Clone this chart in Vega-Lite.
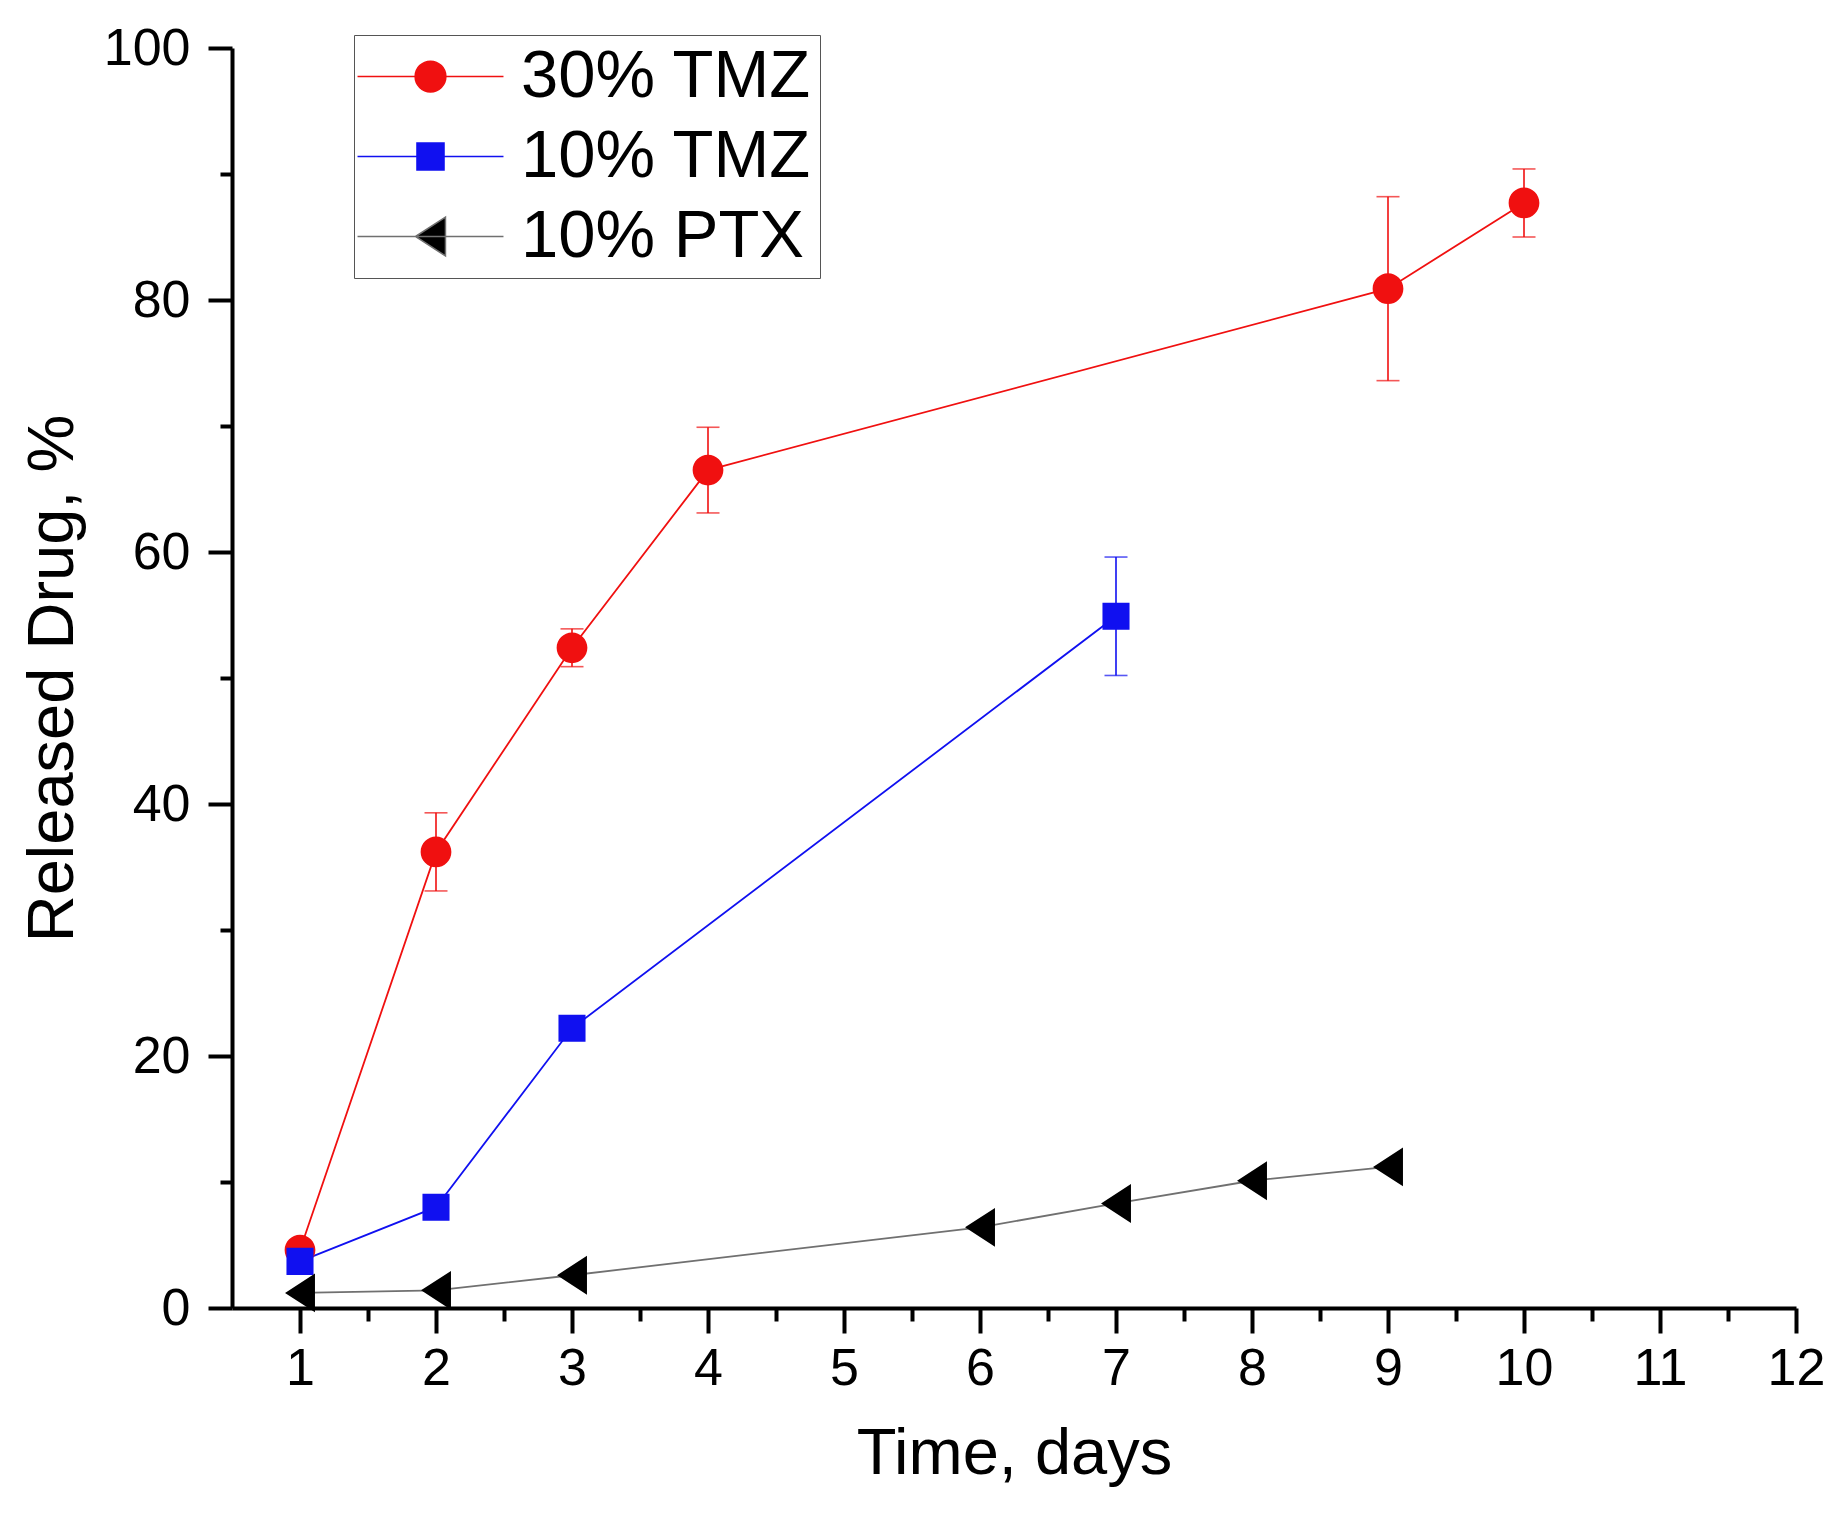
{
  "$schema": "https://vega.github.io/schema/vega-lite/v6.json",
  "description": "Cumulative drug release over time",
  "width": 1564,
  "height": 1260,
  "autosize": "none",
  "padding": {"left": 232, "top": 48, "right": 40, "bottom": 221},
  "background": "white",
  "config": {
    "view": {"stroke": null},
    "font": "Liberation Sans",
    "axis": {
      "grid": false,
      "domainColor": "black",
      "domainWidth": 4,
      "tickColor": "black",
      "tickWidth": 4,
      "labelFont": "Liberation Sans",
      "labelFontSize": 52,
      "labelColor": "black",
      "titleFont": "Liberation Sans",
      "titleFontSize": 65,
      "titleFontWeight": "normal",
      "titleColor": "black"
    }
  },
  "data": {
    "values": [
      {"series": "30% TMZ", "day": 1, "value": 4.6, "err": null},
      {"series": "30% TMZ", "day": 2, "value": 36.2, "err": 3.1},
      {"series": "30% TMZ", "day": 3, "value": 52.4, "err": 1.5},
      {"series": "30% TMZ", "day": 4, "value": 66.5, "err": 3.4},
      {"series": "30% TMZ", "day": 9, "value": 80.9, "err": 7.3},
      {"series": "30% TMZ", "day": 10, "value": 87.7, "err": 2.7},
      {"series": "10% TMZ", "day": 1, "value": 3.7, "err": null},
      {"series": "10% TMZ", "day": 2, "value": 8.0, "err": null},
      {"series": "10% TMZ", "day": 3, "value": 22.2, "err": null},
      {"series": "10% TMZ", "day": 7, "value": 54.9, "err": 4.7},
      {"series": "10% PTX", "day": 1, "value": 1.2, "err": null},
      {"series": "10% PTX", "day": 2, "value": 1.4, "err": null},
      {"series": "10% PTX", "day": 3, "value": 2.6, "err": null},
      {"series": "10% PTX", "day": 6, "value": 6.4, "err": null},
      {"series": "10% PTX", "day": 7, "value": 8.3, "err": null},
      {"series": "10% PTX", "day": 8, "value": 10.1, "err": null},
      {"series": "10% PTX", "day": 9, "value": 11.2, "err": null}
    ]
  },
  "encoding": {
    "x": {
      "field": "day",
      "type": "quantitative",
      "title": "Time, days",
      "scale": {"domain": [0.5, 12], "nice": false, "zero": false},
      "axis": {
        "values": [1, 1.5, 2, 2.5, 3, 3.5, 4, 4.5, 5, 5.5, 6, 6.5, 7, 7.5, 8, 8.5, 9, 9.5, 10, 10.5, 11, 11.5, 12],
        "format": "~g",
        "labelExpr": "datum.value % 1 === 0 ? datum.label : ''",
        "tickSize": {"condition": {"test": "datum.value % 1 !== 0", "value": 13}, "value": 25},
        "labelPadding": 10,
        "titlePadding": 28,
        "labelFlush": false
      }
    },
    "y": {
      "field": "value",
      "type": "quantitative",
      "title": "Released Drug, %",
      "scale": {"domain": [0, 100], "nice": false},
      "axis": {
        "values": [0, 10, 20, 30, 40, 50, 60, 70, 80, 90, 100],
        "format": "d",
        "labelExpr": "datum.value % 20 === 0 ? datum.label : ''",
        "tickSize": {"condition": {"test": "datum.value % 20 !== 0", "value": 12}, "value": 24},
        "labelPadding": 18,
        "titlePadding": 17,
        "labelFlush": false
      }
    },
    "color": {
      "field": "series",
      "type": "nominal",
      "scale": {"domain": ["30% TMZ", "10% TMZ", "10% PTX"], "range": ["#f01010", "#1010f0", "#000000"]},
      "legend": {
        "title": null,
        "orient": "none",
        "legendX": 122,
        "legendY": -13,
        "padding": 8,
        "fillColor": "white",
        "strokeColor": "#555555",
        "labelFont": "Liberation Sans",
        "labelFontSize": 67,
        "labelColor": "black",
        "labelOffset": 57,
        "labelLimit": 600,
        "rowPadding": 12,
        "symbolSize": 1681,
        "symbolOffset": 35,
        "symbolStrokeWidth": 1.5,
        "symbolOpacity": 1
      }
    }
  },
  "layer": [
    {
      "mark": {"type": "line", "strokeWidth": 1.8},
      "encoding": {
        "stroke": {
          "field": "series",
          "type": "nominal",
          "scale": {"domain": ["30% TMZ", "10% TMZ", "10% PTX"], "range": ["#f01010", "#1010f0", "#707070"]}
        }
      }
    },
    {
      "transform": [{"filter": "datum.err != null"}],
      "mark": {"type": "errorbar", "thickness": 1.6, "ticks": {"size": 23, "thickness": 1.6}},
      "encoding": {
        "yError": {"field": "err"}
      }
    },
    {
      "mark": {"type": "point", "filled": true, "opacity": 1, "size": 1681, "strokeWidth": 0},
      "encoding": {
        "shape": {
          "field": "series",
          "type": "nominal",
          "scale": {
            "domain": ["30% TMZ", "10% TMZ", "10% PTX"],
            "range": [
              "M-3.56,0H3.56M0.75,0A0.75,0.75,0,1,1,-0.75,0A0.75,0.75,0,1,1,0.75,0Z",
              "M-3.56,0H3.56M-0.66,-0.66H0.66V0.66H-0.66Z",
              "M-3.56,0H3.56M-0.73,0L0.73,-0.95L0.73,0.95Z"
            ]
          }
        }
      }
    }
  ]
}
